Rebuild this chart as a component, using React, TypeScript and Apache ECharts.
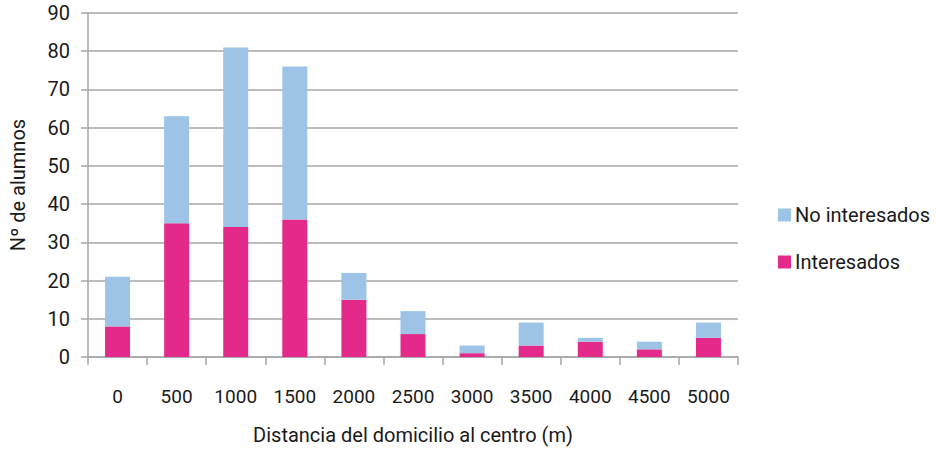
import React, { useEffect, useRef } from "react";
import * as echarts from "echarts";

const categories = ["0", "500", "1000", "1500", "2000", "2500", "3000", "3500", "4000", "4500", "5000"];
const interesados = [8, 35, 34, 36, 15, 6, 1, 3, 4, 2, 5];
const noInteresados = [13, 28, 47, 40, 7, 6, 2, 6, 1, 2, 4];
const yTicks = { min: 0, max: 90, interval: 10 };

const FONT = "'Liberation Sans Narrow', Roboto, sans-serif";
const BLUE = "#9DC3E6";
const PINK = "#E3298A";
const GREY = "#A6A6A6";
const TXT = "#1a1a1a";

export default function App() {
  const ref = useRef<HTMLDivElement>(null);
  useEffect(() => {
    if (!ref.current) return;
    const chart = echarts.init(ref.current, undefined, { renderer: "svg" });
    chart.setOption({
      animation: false,
      backgroundColor: "#ffffff",
      textStyle: { fontFamily: FONT },
      grid: { left: 88, right: 198, top: 13, bottom: 95, outerBoundsMode: "none", containLabel: false },
      legend: {
        orient: "vertical",
        left: 773,
        top: 200,
        itemWidth: 13,
        itemHeight: 13,
        itemGap: 27,
        icon: "rect",
        data: ["No interesados", "Interesados"],
        textStyle: { fontFamily: FONT, fontSize: 20, color: TXT, padding: [0, 0, 0, -1] },
      },
      xAxis: {
        type: "category",
        data: categories,
        name: "Distancia del domicilio al centro (m)",
        nameLocation: "middle",
        nameGap: 68,
        nameTextStyle: { fontFamily: FONT, fontSize: 20, color: TXT },
        axisLine: { lineStyle: { color: GREY, width: 1.5 } },
        axisTick: { show: true, length: 8, interval: 0, lineStyle: { color: GREY, width: 1.5 } },
        axisLabel: { fontFamily: FONT, fontSize: 19, color: TXT, margin: 30, interval: 0 },
      },
      yAxis: {
        type: "value",
        min: yTicks.min,
        max: yTicks.max,
        interval: yTicks.interval,
        name: "Nº de alumnos",
        nameLocation: "middle",
        nameGap: 60,
        nameRotate: 90,
        nameTextStyle: { fontFamily: FONT, fontSize: 20, color: TXT },
        axisLine: { show: true, lineStyle: { color: GREY, width: 1.5 } },
        axisTick: { show: true, length: 7, lineStyle: { color: GREY, width: 1.5 } },
        splitLine: { lineStyle: { color: GREY, width: 1.5 } },
        axisLabel: { fontFamily: FONT, fontSize: 20, color: TXT, margin: 18 },
      },
      series: [
        {
          name: "Interesados",
          type: "bar",
          stack: "total",
          data: interesados,
          barWidth: 25,
          itemStyle: { color: PINK },
        },
        {
          name: "No interesados",
          type: "bar",
          stack: "total",
          data: noInteresados,
          barWidth: 25,
          itemStyle: { color: BLUE },
        },
      ],
    });
    return () => chart.dispose();
  }, []);
  return (
    <div
      ref={ref}
      style={{ position: "fixed", left: 0, top: 0, width: 936, height: 452, background: "#fff" }}
    />
  );
}
